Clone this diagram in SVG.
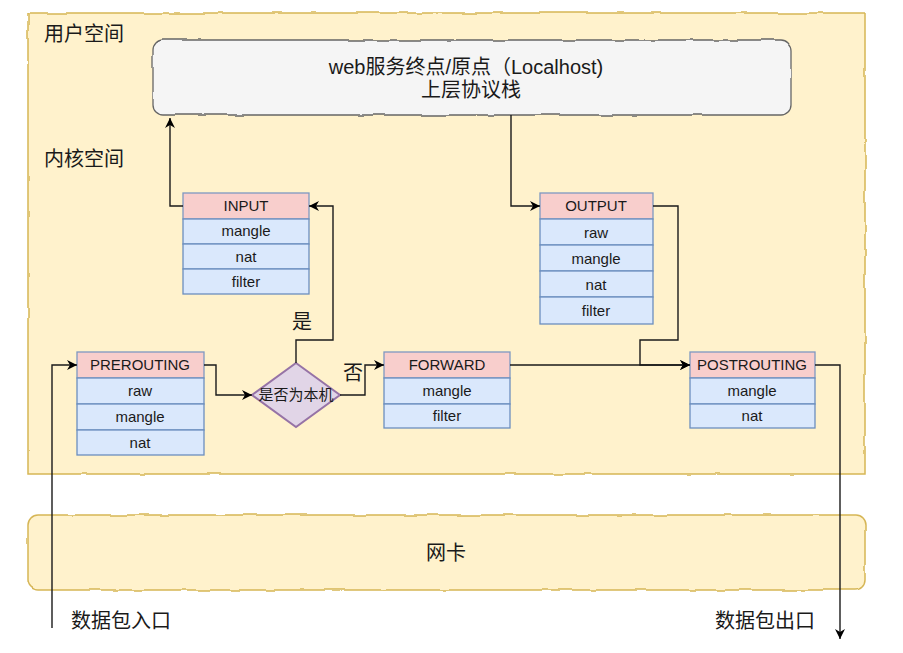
<svg xmlns="http://www.w3.org/2000/svg" width="903" height="653" viewBox="0 0 903 653">
<style>
text{font-family:"Liberation Sans","Noto Sans CJK SC",sans-serif;fill:#1a1a1a;}
.big{font-size:20px;}
.t{font-size:15px;text-anchor:middle;}
.hd{fill:#f8cecc;stroke:#7e98c2;stroke-width:1.3;}
.row{fill:#dae8fc;stroke:#6c8ebf;stroke-width:1.3;}
.area{fill:#fff2cc;stroke:#d6b656;stroke-width:1.5;}
.conn path{fill:none;stroke:#1a1a1a;stroke-width:1.4;}
</style>
<defs>
<marker id="ar" viewBox="0 0 10 10" markerUnits="userSpaceOnUse" markerWidth="11" markerHeight="10" refX="10" refY="5" orient="auto">
<path d="M0,0 L10,5 L0,10 L3,5 z" fill="#000"/>
</marker>
<filter id="sk" x="-2%" y="-2%" width="104%" height="104%">
<feTurbulence type="fractalNoise" baseFrequency="0.04" numOctaves="2" seed="3"/>
<feDisplacementMap in="SourceGraphic" scale="3" xChannelSelector="R" yChannelSelector="G"/>
</filter>
</defs>
<rect width="903" height="653" fill="#fff"/>
<g id="kernel-area">
<rect class="area" x="28" y="13" width="837" height="461" filter="url(#sk)"/>
<text class="big" x="44" y="41">用户空间</text>
<text class="big" x="44" y="166">内核空间</text>
</g>
<g id="nic">
<rect class="area" x="28" y="515" width="837" height="75" rx="10" filter="url(#sk)"/>
<text class="big" x="446" y="560" text-anchor="middle">网卡</text>
</g>
<g id="userspace">
<rect x="153" y="40" width="638" height="75" rx="10" fill="#f5f5f5" stroke="#666" stroke-width="1.3" filter="url(#sk)"/>
<text class="big" x="466" y="74" text-anchor="middle">web服务终点/原点（Localhost)</text>
<text class="big" x="471" y="97" text-anchor="middle">上层协议栈</text>
</g>
<g id="input">
<rect class="hd" x="183" y="193" width="126" height="26"/>
<rect class="row" x="183" y="219" width="126" height="25"/>
<rect class="row" x="183" y="244" width="126" height="25"/>
<rect class="row" x="183" y="269" width="126" height="25"/>
<text class="t" x="246" y="211">INPUT</text>
<text class="t" x="246" y="236">mangle</text>
<text class="t" x="246" y="262">nat</text>
<text class="t" x="246" y="287">filter</text>
</g>
<g id="output">
<rect class="hd" x="540" y="193" width="113" height="26"/>
<rect class="row" x="540" y="219" width="113" height="26"/>
<rect class="row" x="540" y="245" width="113" height="26"/>
<rect class="row" x="540" y="271" width="113" height="26"/>
<rect class="row" x="540" y="297" width="113" height="27"/>
<text class="t" x="596" y="211">OUTPUT</text>
<text class="t" x="596" y="238">raw</text>
<text class="t" x="596" y="264">mangle</text>
<text class="t" x="596" y="290">nat</text>
<text class="t" x="596" y="316">filter</text>
</g>
<g id="prerouting">
<rect class="hd" x="77" y="352" width="127" height="26"/>
<rect class="row" x="77" y="378" width="127" height="26"/>
<rect class="row" x="77" y="404" width="127" height="26"/>
<rect class="row" x="77" y="430" width="127" height="25"/>
<text class="t" x="140" y="370">PREROUTING</text>
<text class="t" x="140" y="396">raw</text>
<text class="t" x="140" y="422">mangle</text>
<text class="t" x="140" y="448">nat</text>
</g>
<g id="decision">
<polygon points="296,363 340,395 296,427 252,395" fill="#e1d5e7" stroke="#9673a6" stroke-width="2"/>
<text class="t" x="296" y="400">是否为本机</text>
</g>
<g id="forward">
<rect class="hd" x="384" y="352" width="126" height="26"/>
<rect class="row" x="384" y="378" width="126" height="26"/>
<rect class="row" x="384" y="404" width="126" height="24"/>
<text class="t" x="447" y="370">FORWARD</text>
<text class="t" x="447" y="396">mangle</text>
<text class="t" x="447" y="421">filter</text>
</g>
<g id="postrouting">
<rect class="hd" x="690" y="352" width="125" height="26"/>
<rect class="row" x="690" y="378" width="125" height="26"/>
<rect class="row" x="690" y="404" width="125" height="24"/>
<text class="t" x="752" y="370">POSTROUTING</text>
<text class="t" x="752" y="396">mangle</text>
<text class="t" x="752" y="421">nat</text>
</g>
<g id="connectors" class="conn">
<path d="M183,206 H170 V118" marker-end="url(#ar)"/>
<path d="M511,115 V206 H540" marker-end="url(#ar)"/>
<path d="M204,365 H216 V395 H252" marker-end="url(#ar)"/>
<path d="M296,363 V340 H333 V206 H309" marker-end="url(#ar)"/>
<path d="M340,395 H365 V365 H384" marker-end="url(#ar)"/>
<path d="M510,365 H690" marker-end="url(#ar)"/>
<path d="M653,206 H678 V340 H640 V365 H690" marker-end="url(#ar)"/>
<path d="M52,628 V365 H77" marker-end="url(#ar)"/>
<path d="M815,365 H840 V639" marker-end="url(#ar)"/>
<text class="big" x="292" y="329">是</text>
<text class="big" x="343" y="380">否</text>
<text class="big" x="71" y="628">数据包入口</text>
<text class="big" x="715" y="628">数据包出口</text>
</g>
</svg>
